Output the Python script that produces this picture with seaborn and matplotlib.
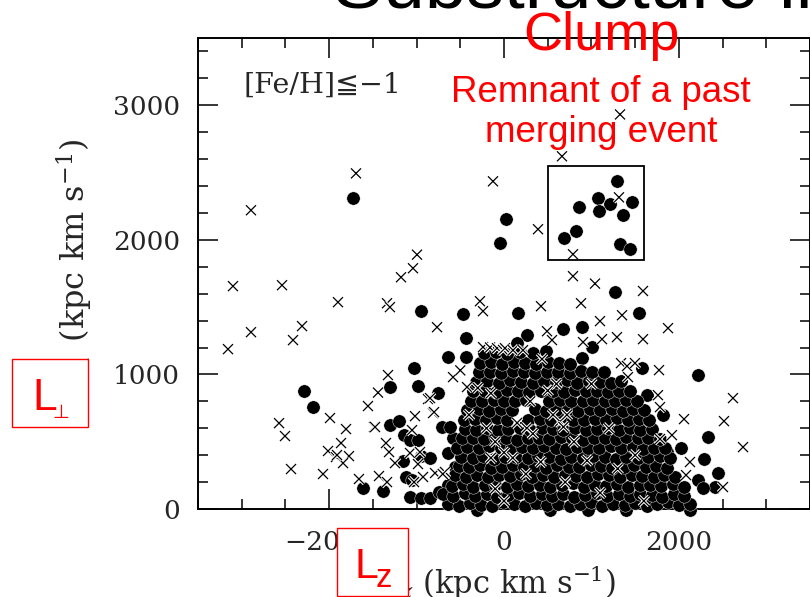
import matplotlib
matplotlib.use("Agg")
import matplotlib.pyplot as plt
import matplotlib.patheffects as pe
from matplotlib.patches import Rectangle
from matplotlib.ticker import MultipleLocator
import pandas as pd
import seaborn as sns

# ---- data: angular momentum components of metal-poor stars (kpc km/s) ----
# stars inside the boxed clump
clump_lz = [1292, 1075, 1212, 1464, 1087, 858, 1361, 824, 686, 1327, 1441]
clump_lperp = [2435, 2309, 2264, 2279, 2212, 2242, 2183, 2064, 2012, 1967, 1930]

# isolated filled-symbol stars
sparse_dots = [
    (-1727, 2309), (23, 2153), (-46, 1975),
    (-2288, 876), (-2185, 757), (-1613, 156), (-1384, 134),
    (-949, 1470), (-469, 1448), (-1029, 1047), (-984, 913), (-1304, 906), (-755, 861),
    (-435, 1270), (-641, 1129), (-435, 1129),
    (1265, 1612), (1544, 1455), (160, 1455), (675, 1336), (892, 1351), (263, 1292), (149, 1232),
    (1007, 1203), (892, 1121), (732, 1054), (904, 1010), (1132, 1010), (1578, 1047),
    (1418, 846), (1636, 846), (1819, 698), (1475, 713), (1864, 423),
    (2219, 995), (2333, 535), (2288, 371), (2448, 267), (2219, 215), (2413, 163), (2024, 453), (2276, 156),
    (-1304, 625), (-1200, 655), (-1145, 550), (-1075, 512), (-980, 512), (-1160, 356), (-1120, 238),
    (-1052, 215), (-955, 393), (-846, 382), (-641, 416), (-583, 527), (-709, 609), (-618, 609),
    (-1075, 89), (-945, 85), (-846, 82), (-745, 130), (-635, 178), (-555, 312), (-389, 416),
]

# filled-symbol stars of the dense disc-like concentration
dense_dots = [
    (-309, -10), (526, -8), (960, -10), (1395, -8), (2127, -10),
    (-640, 40), (-520, 25), (-390, 45), (-260, 30), (-140, 20), (-10, 50), (110, 35), (240, 25),
    (370, 45), (490, 30), (620, 40), (750, 20), (870, 35), (1000, 50), (1120, 25), (1250, 40),
    (1380, 30), (1500, 45), (1630, 20), (1750, 35), (1880, 50), (2000, 30), (2130, 40),
    (-700, 110), (-580, 95), (-450, 120), (-330, 100), (-200, 115), (-80, 90), (50, 105), (170, 120),
    (300, 95), (430, 110), (550, 100), (680, 115), (800, 90), (930, 105), (1060, 120), (1180, 100),
    (1310, 110), (1440, 95), (1560, 115), (1690, 105), (1810, 90), (1940, 110), (2060, 100),
    (-600, 170), (-470, 185), (-350, 165), (-220, 180), (-100, 175), (30, 160), (150, 185), (280, 170),
    (410, 180), (530, 165), (660, 175), (790, 190), (910, 160), (1040, 180), (1170, 170), (1290, 185),
    (1420, 165), (1550, 175), (1670, 180), (1800, 170), (1930, 185), (2060, 165),
    (-560, 250), (-430, 240), (-310, 255), (-180, 235), (-60, 250), (70, 245), (190, 260), (320, 240),
    (450, 250), (570, 235), (700, 255), (820, 245), (950, 240), (1080, 260), (1200, 250), (1330, 235),
    (1460, 255), (1580, 245), (1710, 240), (1830, 250), (1960, 235),
    (-520, 320), (-400, 310), (-270, 325), (-150, 305), (-20, 315), (100, 330), (230, 310), (360, 320),
    (480, 305), (610, 325), (740, 315), (860, 310), (990, 330), (1110, 320), (1240, 305), (1370, 315),
    (1490, 325), (1620, 310), (1740, 320), (1870, 305),
    (-490, 390), (-360, 380), (-240, 395), (-110, 375), (10, 385), (140, 390), (270, 380), (390, 395),
    (520, 385), (650, 375), (770, 390), (900, 380), (1020, 395), (1150, 385), (1280, 375), (1400, 390),
    (1530, 380), (1650, 385), (1780, 395), (1900, 380),
    (-540, 455), (-420, 460), (-290, 450), (-170, 465), (-40, 455), (80, 445), (210, 460), (330, 450),
    (460, 465), (590, 455), (710, 445), (840, 460), (960, 450), (1090, 455), (1220, 465), (1340, 450),
    (1470, 460), (1590, 445), (1720, 455), (1840, 450),
    (-480, 525), (-350, 530), (-230, 520), (-100, 535), (20, 525), (150, 515), (270, 530), (400, 525),
    (520, 520), (650, 535), (780, 525), (900, 515), (1030, 530), (1150, 525), (1280, 520), (1400, 535),
    (1530, 525), (1650, 530), (1780, 520),
    (-450, 595), (-320, 590), (-200, 600), (-70, 585), (50, 595), (180, 605), (300, 590), (430, 600),
    (560, 595), (680, 585), (810, 600), (940, 590), (1060, 595), (1190, 605), (1310, 590), (1440, 600),
    (1560, 585), (1690, 595),
    (-460, 665), (-330, 670), (-210, 660), (-80, 675), (40, 665), (280, 660), (410, 670), (540, 665),
    (660, 675), (790, 660), (910, 665), (1040, 670), (1170, 660), (1290, 675), (1420, 665), (1540, 670),
    (1660, 660),
    (-420, 735), (-290, 740), (-170, 730), (-40, 745), (90, 735), (350, 740), (480, 730), (600, 735),
    (730, 745), (850, 730), (980, 740), (1100, 735), (1230, 745), (1360, 730), (1480, 740), (1600, 735),
    (-380, 805), (-250, 800), (-120, 810), (0, 800), (130, 805), (250, 810), (520, 800), (640, 810),
    (770, 805), (900, 800), (1020, 810), (1150, 805), (1270, 800), (1400, 810), (1520, 805),
    (-350, 875), (-220, 880), (-90, 870), (30, 885), (160, 875), (290, 870), (420, 880), (560, 875),
    (690, 870), (810, 885), (940, 875), (1060, 880), (1190, 870), (1320, 875), (1440, 880),
    (-320, 945), (-190, 950), (-60, 940), (70, 955), (200, 945), (330, 940), (460, 950), (590, 945),
    (720, 955), (840, 940), (970, 950), (1100, 945), (1220, 940), (1340, 950),
    (-290, 1015), (-160, 1020), (-30, 1010), (100, 1025), (230, 1015), (360, 1010), (490, 1020),
    (620, 1015), (750, 1010), (880, 1025), (1010, 1015), (1140, 1020),
    (-280, 1085), (-150, 1090), (-20, 1080), (110, 1095), (240, 1085), (370, 1080), (500, 1090),
    (630, 1085), (760, 1080),
    (-230, 1160), (-90, 1170), (40, 1150), (180, 1165), (330, 1160), (480, 1175),
]

# open-symbol (cross) stars
cross_stars = [
    (-3100, 1656), (-2539, 1663), (-2894, 1314), (-3157, 1188), (-2894, 2220), (-1693, 2494),
    (-126, 2435), (663, 2621), (1327, 2932), (389, 2079), (789, 1893), (1315, 2316),
    (-1899, 1537), (-2310, 1359), (-2413, 1255), (-1338, 1529), (-1305, 1500), (-1178, 1722),
    (-1041, 1789), (-995, 1890), (-275, 1544), (-240, 1470), (-766, 1351),
    (-1327, 995), (-1441, 865), (-1556, 765), (-2573, 638), (-2505, 542), (-1990, 676), (-1807, 594),
    (-1487, 609), (-1864, 490), (-2013, 431), (-1922, 386), (-1773, 393), (-1841, 341), (-2436, 297),
    (-2070, 260), (-1659, 223), (-1430, 245), (-1338, 200), (-1350, 490), (-1315, 423), (-1018, 690),
    (-1052, 586), (-869, 817), (-812, 713), (-1475, 609), (-1910, 401), (-1247, 341), (-1075, 416),
    (-961, 423), (-984, 334), (-926, 238), (-1029, 200), (-789, 267), (-675, 275),
    (789, 1730), (1041, 1675), (1590, 1620), (423, 1507), (881, 1529), (1350, 1440), (1098, 1396),
    (1876, 1344), (492, 1321), (549, 1255), (904, 1240), (1121, 1262), (1292, 1277), (1590, 1262),
    (-240, 1203), (-160, 1200), (-80, 1195), (-11, 1182), (11, 1195), (103, 1180), (217, 1180),
    (435, 1114), (1338, 1084), (1407, 1062), (1498, 1084), (1418, 980), (1773, 1032), (1761, 846),
    (1784, 757), (-583, 980), (-500, 1030), (-423, 906), (-846, 824), (-800, 720),
    (2619, 824), (2516, 653), (2734, 460), (2059, 668), (1921, 549), (1784, 520), (2127, 349),
    (2082, 252), (2505, 163),
    (560, 700), (640, 650), (720, 700), (680, 610), (150, 640), (260, 600), (330, 560), (1000, 930),
    (600, 930), (420, 350), (100, 380), (950, 360), (1600, 60), (-700, 260), (-200, 600), (-100, 500),
    (0, 420), (-150, 380), (-100, 150), (0, 60), (-300, 900), (-150, 860), (300, 800), (500, 880),
    (800, 500), (1200, 600), (1300, 300), (700, 200), (1100, 120), (1500, 400), (250, 260), (-400, 700),
]

# clump box limits
box_lz = (500, 1600)
box_lperp = (1850, 2550)

# ---- styling ----
sns.set_style("ticks")
plt.rcParams["font.family"] = ["DejaVu Serif", "DejaVu Sans"]
plt.rcParams["mathtext.fontset"] = "dejavuserif"
SANS = ["Liberation Sans", "DejaVu Sans"]

dots = pd.DataFrame(sparse_dots + dense_dots, columns=["Lz", "Lperp"])
clump = pd.DataFrame({"Lz": clump_lz, "Lperp": clump_lperp})
crosses = pd.DataFrame(cross_stars, columns=["Lz", "Lperp"])

fig = plt.figure(figsize=(8.1, 5.97), dpi=100)
ax = fig.add_axes([198 / 810, 88 / 597, 612 / 810, 471 / 597])

dot_kw = dict(marker="o", s=92, color="black", edgecolor="white", linewidth=0.3,
              clip_on=False, zorder=3, legend=False, ax=ax)
sns.scatterplot(data=dots, x="Lz", y="Lperp", **dot_kw)
sns.scatterplot(data=clump, x="Lz", y="Lperp", **dot_kw)
sns.scatterplot(data=crosses, x="Lz", y="Lperp", marker="x", s=52, color="black",
                linewidth=0.9, clip_on=False, zorder=4, legend=False, ax=ax,
                path_effects=[pe.withStroke(linewidth=2.4, foreground="white")])

ax.add_patch(Rectangle((box_lz[0], box_lperp[0]), box_lz[1] - box_lz[0],
                       box_lperp[1] - box_lperp[0], fill=False, ec="black", lw=1.3, zorder=5))

ax.set_xlim(-3500, 3500)
ax.set_ylim(0, 3500)
ax.xaxis.set_major_locator(MultipleLocator(2000))
ax.xaxis.set_minor_locator(MultipleLocator(500))
ax.yaxis.set_major_locator(MultipleLocator(1000))
ax.yaxis.set_minor_locator(MultipleLocator(200))
ax.tick_params(which="both", direction="in", top=True, right=True, width=1.1, color="black")
ax.tick_params(which="major", length=14.4)
ax.tick_params(which="minor", length=7.2)
ax.tick_params(axis="x", pad=15, labelsize=19)
ax.tick_params(axis="y", pad=13, labelsize=19)
for sp in ax.spines.values():
    sp.set_linewidth(1.4)
    sp.set_color("black")

ax.set_xlabel(r"L$_z$ (kpc km s$^{-1}$)", fontsize=22)
ax.xaxis.set_label_coords(0.49, -0.116)
ax.set_ylabel(r"L$_\perp$ (kpc km s$^{-1}$)", fontsize=23)
ax.yaxis.set_label_coords(-0.168, 0.51)

fig.text(243 / 810, 1 - 93 / 597, "[Fe/H]≦−1", fontsize=20.5, va="baseline", ha="left")

# slide annotations
fig.text(333 / 810, 1 - 8 / 597, "Substructure in", fontsize=54, family=SANS,
         va="baseline", ha="left", color="black")
fig.text(601 / 810, 1 - 50 / 597, "Clump", fontsize=39, family=SANS, color="red",
         ha="center", va="baseline")
fig.text(601 / 810, 1 - 102 / 597, "Remnant of a past", fontsize=26.5, family=SANS,
         color="red", ha="center", va="baseline")
fig.text(601 / 810, 1 - 142 / 597, "merging event", fontsize=26.5, family=SANS,
         color="red", ha="center", va="baseline")

fig.add_artist(Rectangle((12 / 810, 1 - 427 / 597), 76 / 810, 68 / 597,
                         transform=fig.transFigure, facecolor="white", edgecolor="red", lw=1.0))
fig.text(32 / 810, 1 - 410 / 597, "L", fontsize=32, family=SANS, color="red", va="baseline")
fig.text(52 / 810, 1 - 418 / 597, "⊥", fontsize=14, family=["DejaVu Sans"], color="red",
         va="baseline")

fig.add_artist(Rectangle((337 / 810, 1 - 596 / 597), 71 / 810, 68 / 597,
                         transform=fig.transFigure, facecolor="white", edgecolor="red", lw=1.0))
fig.text(354 / 810, 1 - 578 / 597, "L", fontsize=31, family=SANS, color="red", va="baseline")
fig.text(376 / 810, 1 - 587 / 597, "z", fontsize=23.5, family=SANS, color="red", va="baseline")

fig.savefig("out.png", dpi=100)
